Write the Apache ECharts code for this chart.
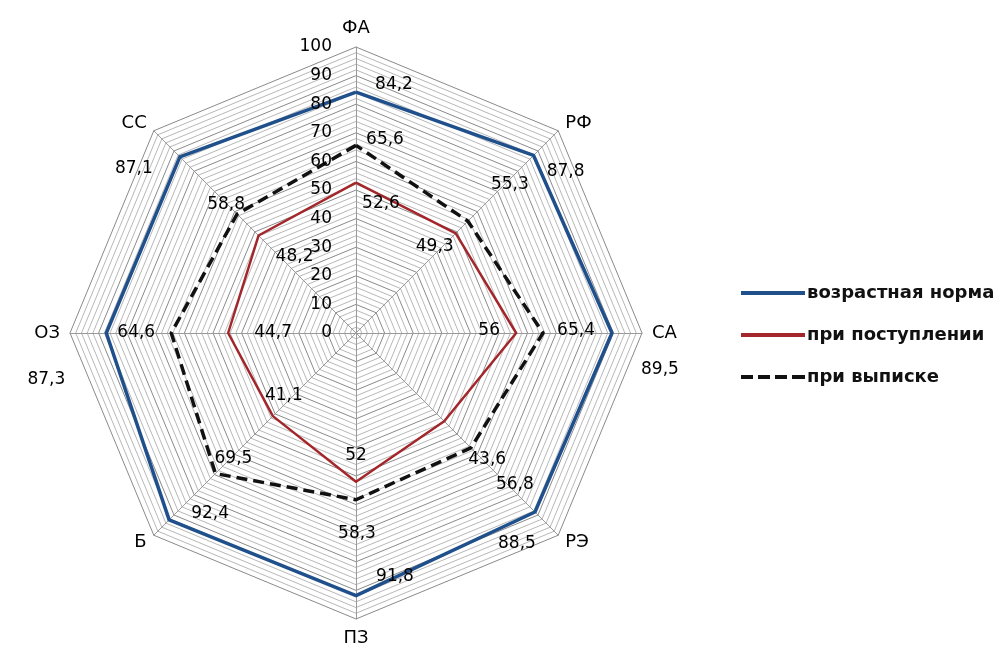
<!DOCTYPE html>
<html>
<head>
<meta charset="utf-8">
<script src="https://cdn.jsdelivr.net/npm/echarts@6/dist/echarts.min.js"></script>
<style>
html,body{margin:0;padding:0;background:#fff;}
#main{width:1003px;height:648px;}
</style>
</head>
<body>
<div id="main"></div>
<script>
// Categories in clockwise order starting at the top
var categories = ['ФА', 'РФ', 'СА', 'РЭ', 'ПЗ', 'Б', 'ОЗ', 'СС'];
var seriesNames = ['возрастная норма', 'при поступлении', 'при выписке'];
var normValues = [84.2, 87.8, 89.5, 88.5, 91.8, 92.4, 87.3, 87.1];
var admissionValues = [52.6, 49.3, 56, 43.6, 52, 41.1, 44.7, 48.2];
var dischargeValues = [65.6, 55.3, 65.4, 56.8, 58.3, 69.5, 64.6, 58.8];
var axisMax = 100;
var tickStep = 10;

// label offsets (style only), in the same clockwise order
var normOff = [[38,-8],[32,16],[48,37],[-18,32],[39,-19],[41,-6],[-60,47],[-46,12]];
var admOff = [[25,21],[-21,13],[-27,-2],[43,38],[0,-26],[11,-21],[45,0],[36,21]];
var disOff = [[29,-6],[42,-37],[33,-2],[44,37],[1,34],[18,-15],[-35,0],[-11,-10]];

// ECharts radar places indicators counter-clockwise: reorder
var order = [0, 7, 6, 5, 4, 3, 2, 1];
function reorder(a) { return order.map(function (i) { return a[i]; }); }

var cats = reorder(categories);
var colors = ['#20508c', '#a3262a', '#111111'];
var center = [356, 333];
var radius = 286;

function fmt(v) { return String(v).replace('.', ','); }

function labelSeries(name, vals, offs) {
  var v = reorder(vals), o = reorder(offs);
  return {
    type: 'scatter',
    name: name + '_lbl',
    coordinateSystem: 'polar',
    symbolSize: 0,
    silent: true,
    z: 10,
    itemStyle: { opacity: 1 },
    data: v.map(function (x, i) {
      return {
        value: [x, cats[i]],
        label: { offset: o[i] }
      };
    }),
    label: {
      show: true,
      position: 'inside',
      color: '#000',
      fontSize: 17,
      fontFamily: 'DejaVu Sans',
      formatter: function (p) { return fmt(p.value[0]); }
    }
  };
}

var splitColors = ['#8a8a8a', '#b8b8b8', '#b8b8b8', '#b8b8b8', '#b8b8b8'];

var option = {
  backgroundColor: '#ffffff',
  animation: false,
  legend: {
    orient: 'vertical',
    left: 736,
    top: 279,
    itemWidth: 64,
    itemHeight: 4,
    itemGap: 24,
    textStyle: { fontSize: 18, fontFamily: 'DejaVu Sans', fontWeight: 'bold', color: '#111', padding: [0, 0, 0, -3] },
    data: [
      { name: seriesNames[0], icon: 'rect' },
      { name: seriesNames[1], icon: 'rect' },
      { name: seriesNames[2], icon: 'path://M0,0h12v4h-12z M17,0h12v4h-12z M34,0h12v4h-12z M51,0h13v4h-13z' }
    ]
  },
  radar: {
    center: center,
    radius: radius,
    startAngle: 90,
    shape: 'polygon',
    splitNumber: 50,
    nameGap: 10,
    axisName: { color: '#000', fontSize: 18, fontFamily: 'DejaVu Sans' },
    indicator: cats.map(function (c) { return { name: c, min: 0, max: axisMax }; }),
    axisLine: { lineStyle: { color: '#9a9a9a', width: 1 } },
    splitLine: { lineStyle: { color: splitColors, width: 1 } },
    splitArea: { show: false },
    axisLabel: { show: false },
    axisTick: { show: false }
  },
  polar: { center: center, radius: radius },
  angleAxis: {
    type: 'category',
    data: cats,
    startAngle: 90,
    clockwise: false,
    boundaryGap: false,
    axisLine: { show: false },
    axisTick: { show: false },
    axisLabel: { show: false },
    splitLine: { show: false }
  },
  radiusAxis: {
    min: 0,
    max: axisMax,
    interval: tickStep,
    axisLine: { show: false },
    axisTick: { show: false },
    splitLine: { show: false },
    axisLabel: { show: true, margin: 24, color: '#000', fontSize: 17, fontFamily: 'DejaVu Sans' },
    z: 10
  },
  series: [
    {
      type: 'radar',
      symbol: 'none',
      z: 5,
      data: [
        { name: seriesNames[0], value: reorder(normValues),
          lineStyle: { color: colors[0], width: 3.5 }, itemStyle: { color: colors[0] } },
        { name: seriesNames[1], value: reorder(admissionValues),
          lineStyle: { color: colors[1], width: 2.5 }, itemStyle: { color: colors[1] } },
        { name: seriesNames[2], value: reorder(dischargeValues),
          lineStyle: { color: colors[2], width: 3.5, type: [11, 6] }, itemStyle: { color: colors[2] } }
      ]
    },
    labelSeries(seriesNames[0], normValues, normOff),
    labelSeries(seriesNames[1], admissionValues, admOff),
    labelSeries(seriesNames[2], dischargeValues, disOff)
  ]
};

var chart = echarts.init(document.getElementById('main'));
chart.setOption(option);
</script>
</body>
</html>
